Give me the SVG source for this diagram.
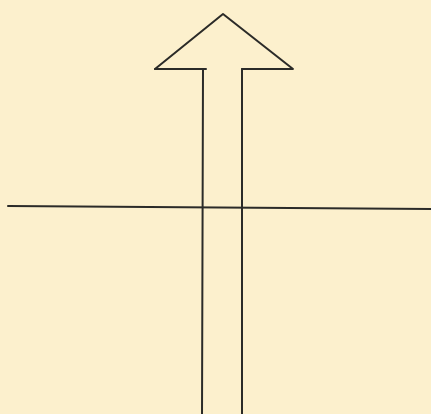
<svg xmlns="http://www.w3.org/2000/svg" width="431" height="414" viewBox="0 0 431 414">
<style>
.ln{fill:none;stroke:#2b2b28;stroke-width:2;stroke-linecap:round;stroke-linejoin:round}
</style>
<rect x="0" y="0" width="431" height="414" fill="#fcf0cd"/>
<g id="arrow">
<polyline class="ln" points="155,69 223,14 293,69 242,69"/>
<polyline class="ln" points="155,69 206,69"/>
<line class="ln" x1="203" y1="69" x2="202" y2="414"/>
<line class="ln" x1="242" y1="69" x2="242" y2="414"/>
</g>
<g id="connectors">
<line class="ln" x1="8" y1="206" x2="431" y2="209"/>
</g>
</svg>
